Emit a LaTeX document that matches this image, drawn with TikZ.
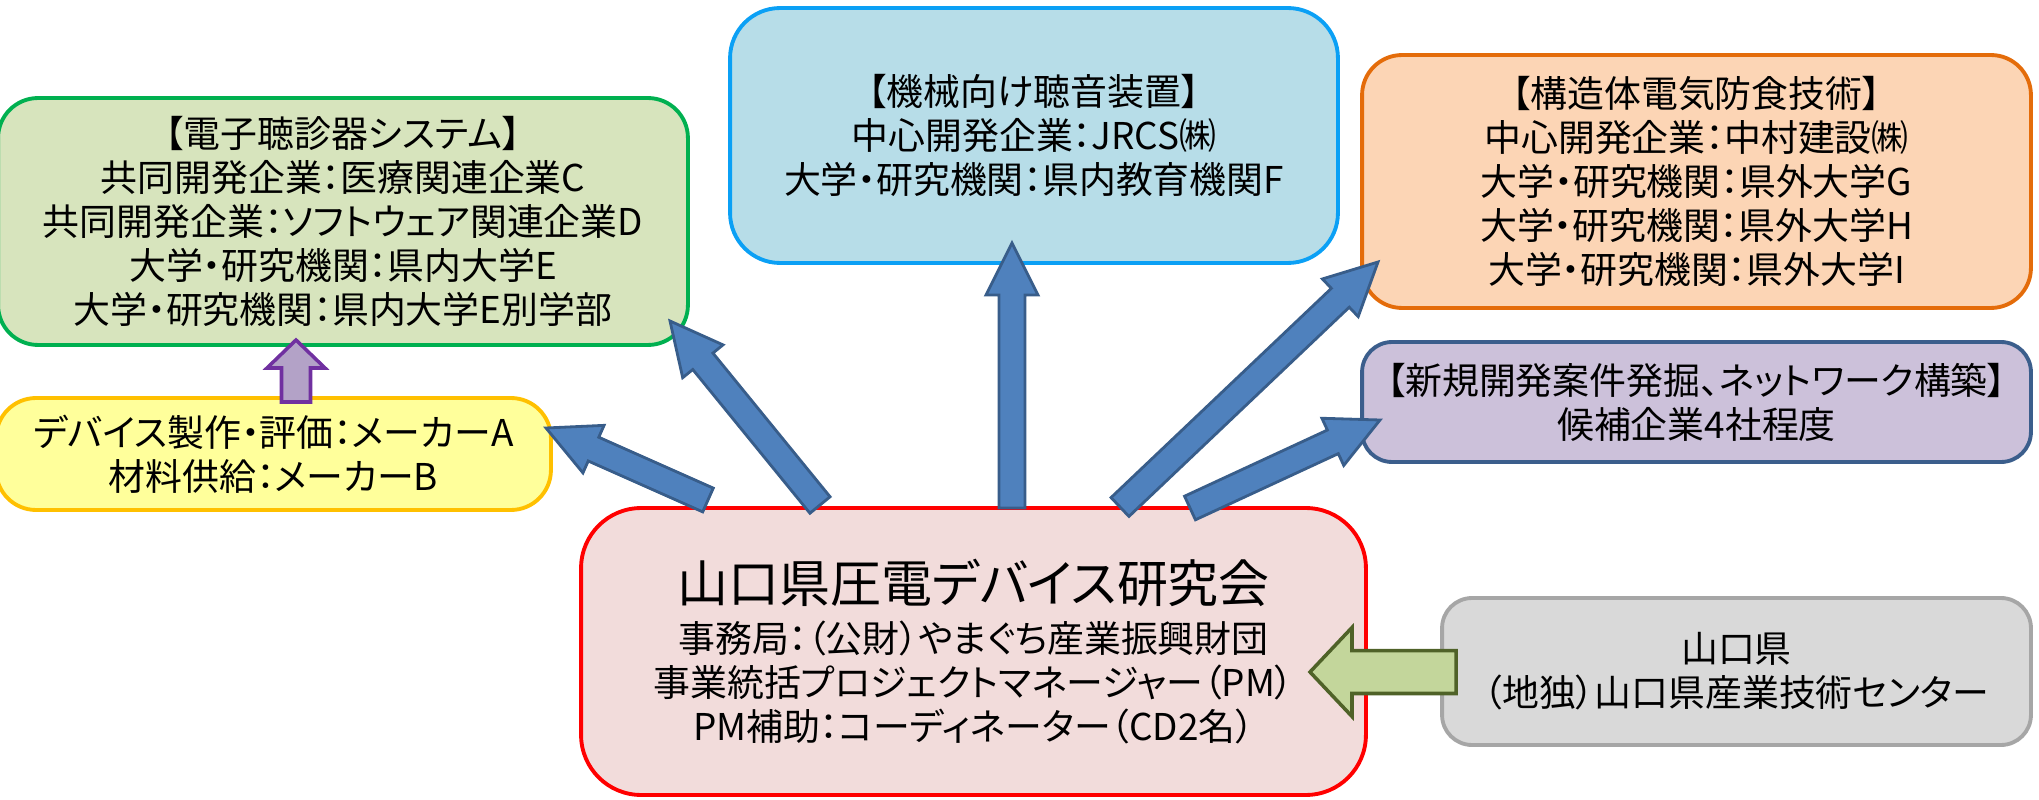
\documentclass[tikz,border=0pt]{standalone}
\usepackage{fontspec}
\newfontfamily\jp[RawFeature=+palt]{Noto Sans CJK JP}
\usetikzlibrary{calc}

\definecolor{greenfill}{HTML}{D7E4BD}
\definecolor{greenedge}{HTML}{00B050}
\definecolor{yellowfill}{HTML}{FFFF9B}
\definecolor{yellowedge}{HTML}{FFC000}
\definecolor{bluefill}{HTML}{B7DDE8}
\definecolor{blueedge}{HTML}{0BA0F5}
\definecolor{orangefill}{HTML}{FCD5B5}
\definecolor{orangeedge}{HTML}{E46C0A}
\definecolor{purplefill}{HTML}{CCC1DA}
\definecolor{purpleedge}{HTML}{3B5E8C}
\definecolor{redfill}{HTML}{F2DCDB}
\definecolor{grayfill}{HTML}{D9D9D9}
\definecolor{grayedge}{HTML}{A6A6A6}
\definecolor{arrowblue}{HTML}{4F81BD}
\definecolor{arrowedge}{HTML}{385D8A}
\definecolor{arrowgreen}{HTML}{C3D69B}
\definecolor{arrowgreenedge}{HTML}{4F6228}
\definecolor{arrowpurple}{HTML}{B3A2C7}
\definecolor{arrowpurpleedge}{HTML}{7030A0}

% block arrow: style, tail, tip, half shaft, half head, head length
\newcommand{\blockarrow}[6]{%
  \coordinate (ah) at ($(#3)!#6!(#2)$);
  \draw[#1] ($(#2)!#4!90:(#3)$) -- ($(ah)!#4!90:(#3)$) -- ($(ah)!#5!90:(#3)$) -- (#3)
    -- ($(ah)!#5!-90:(#3)$) -- ($(ah)!#4!-90:(#3)$) -- ($(#2)!#4!-90:(#3)$) -- cycle;
}

\begin{document}
\begin{tikzpicture}[x=0.02cm,y=0.02cm,
  box/.style={draw,rounded corners=0.8cm,line width=2.2pt,align=center,inner sep=0pt,font=\jp\fontsize{21}{25}\selectfont},
  barrow/.style={fill=arrowblue,draw=arrowedge,line width=1.6pt,line join=miter},
  garrow/.style={fill=arrowgreen,draw=arrowgreenedge,line width=2pt,line join=miter},
  parrow/.style={fill=arrowpurple,draw=arrowpurpleedge,line width=2pt,line join=miter}]
\useasboundingbox (0,0) rectangle (2039,799);

\node[box,fill=greenfill,draw=greenedge,minimum width=13.8cm,minimum height=4.94cm] (steth) at (343,577.5)
  {【電子聴診器システム】\\共同開発企業：医療関連企業C\\共同開発企業：ソフトウェア関連企業D\\大学・研究機関：県内大学E\\大学・研究機関：県内大学E別学部};
\node[box,fill=yellowfill,draw=yellowedge,minimum width=11.1cm,minimum height=2.24cm] (maker) at (273.5,345)
  {デバイス製作・評価：メーカーA\\材料供給：メーカーB};
\node[box,fill=bluefill,draw=blueedge,rounded corners=1cm,minimum width=12.16cm,minimum height=5.1cm] (jrcs) at (1034,663.5)
  {【機械向け聴音装置】\\中心開発企業：JRCS㈱\\大学・研究機関：県内教育機関F};
\node[box,fill=orangefill,draw=orangeedge,minimum width=13.38cm,minimum height=5.06cm] (boshoku) at (1696.5,617.5)
  {【構造体電気防食技術】\\中心開発企業：中村建設㈱\\大学・研究機関：県外大学G\\大学・研究機関：県外大学H\\大学・研究機関：県外大学I};
\node[box,fill=purplefill,draw=purpleedge,rounded corners=0.6cm,minimum width=13.38cm,minimum height=2.4cm] (network) at (1696.5,397)
  {【新規開発案件発掘、ネットワーク構築】\\候補企業4社程度};
\node[box,fill=redfill,draw=red,rounded corners=1.2cm,minimum width=15.7cm,minimum height=5.74cm] (kenkyukai) at (973.5,147.5)
  {{\fontsize{29}{34}\selectfont 山口県圧電デバイス研究会}\\[4pt]事務局：（公財）やまぐち産業振興財団\\事業統括プロジェクトマネージャー（PM）\\PM補助：コーディネーター（CD2名）};
\node[box,fill=grayfill,draw=grayedge,rounded corners=0.6cm,minimum width=11.78cm,minimum height=2.94cm] (center) at (1736.5,127.5)
  {山口県\\（地独）山口県産業技術センター};

% arrow ends
\coordinate (k1) at (708,299);  \coordinate (maker-in) at (546,371);
\coordinate (k2) at (820,294);  \coordinate (steth-in) at (670,478);
\coordinate (k3) at (1012,291); \coordinate (jrcs-in) at (1012,556);
\coordinate (k4) at (1120,292); \coordinate (boshoku-in) at (1378,537);
\coordinate (k5) at (1190,291); \coordinate (network-in) at (1380,379);
\coordinate (center-out) at (1456,127); \coordinate (kenkyukai-in) at (1310,127);
\coordinate (maker-out) at (296,397); \coordinate (steth-in2) at (296,459);

\foreach \i/\t in {1/maker,2/steth,3/jrcs,4/boshoku,5/network} {
  \blockarrow{barrow}{k\i}{\t-in}{0.26cm}{0.52cm}{1.04cm}
}
\blockarrow{garrow}{center-out}{kenkyukai-in}{0.43cm}{0.89cm}{0.84cm}
\blockarrow{parrow}{maker-out}{steth-in2}{0.29cm}{0.58cm}{0.56cm}
\end{tikzpicture}
\end{document}
